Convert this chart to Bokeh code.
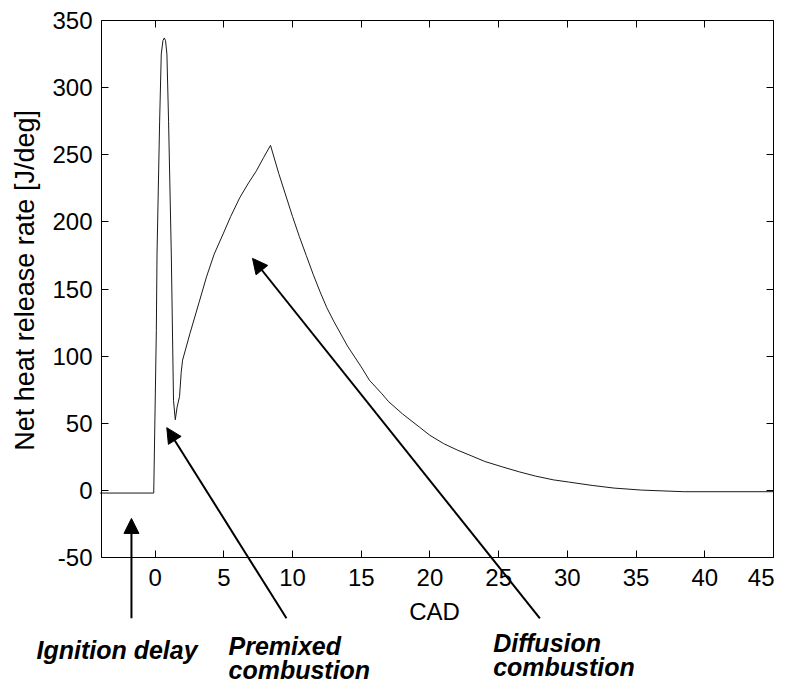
import math
from bokeh.plotting import figure
from bokeh.models import Range1d, FixedTicker, LinearAxis, Arrow, NormalHead, Label
from bokeh.embed import file_html
from bokeh.resources import INLINE

# ---- data ----
cad = [-4.0, -0.1, 0.09, 0.14, 0.33, 0.45, 0.57, 0.67, 0.76, 0.86, 0.98, 1.18,
       1.34, 1.47, 1.6, 1.78, 1.9, 2.0, 2.54, 3.2, 3.74, 4.3, 4.95, 5.5, 6.16,
       6.8, 7.37, 7.9, 8.4, 9.0, 9.5, 10.0, 10.5, 11.0, 11.5, 12.0, 12.5, 13.0,
       14.0, 15.0, 15.6, 16.5, 17.0, 18.0, 19.25, 20.0, 21.0, 22.0, 23.0, 24.0,
       25.3, 26.5, 27.7, 29.0, 30.1, 31.8, 33.4, 35.4, 38.5, 45.0]
hrr = [-2, -2, 119, 176, 275, 325, 335, 337, 335, 325, 275, 176,
       67, 52.6, 62, 70, 88, 97, 117, 140, 159, 176, 191, 204, 218,
       229, 238, 248, 257, 236, 220, 204, 189, 175, 161, 148, 136, 126,
       107.5, 92, 82, 72, 66, 57, 47, 41, 34.8, 30, 25.8, 21.5,
       17.4, 13.8, 10.6, 7.8, 6.2, 3.7, 1.7, 0.2, -1, -1]

x_ticks = [0, 5, 10, 15, 20, 25, 30, 35, 40, 45]
y_ticks = [-50, 0, 50, 100, 150, 200, 250, 300, 350]
y_tick_labels = ["-50", "0", "50", "100", "150", "200", "250", "300", "350"]
x_min, x_max = -3.9, 45
y_min, y_max = -50, 350

x_label = "CAD"
y_label = "Net heat release rate [J/deg]"

# annotation arrows: tail (x, y) -> tip (x, y), in data units
arrow_tail_x = [-1.72, 9.56, 28.0]
arrow_tail_y = [-95.3, -95.3, -95.3]
arrow_tip_x = [-1.72, 0.85, 7.09]
arrow_tip_y = [-20.9, 46.7, 172.8]

# annotation texts, in data units (left edge, text anchor)
note_texts = ["Ignition delay", "Premixed", "combustion", "Diffusion", "combustion"]
note_x = [-8.63, 5.34, 5.34, 24.6, 24.6]
note_y = [-119.2, -116.2, -134.1, -114.0, -131.9]

# axis titles, in data units
x_label_pos = (20.33, -89.9)
y_label_pos = (-9.48, 156.4)

FONT = "Liberation Sans"

# ---- layout: the frame fills the canvas so that notes below the axes show ----
W, H = 774, 683
AX_LEFT, AX_RIGHT, AX_TOP, AX_BOTTOM = 101, 773, 20, 557   # pixel box of the axes
sx = (AX_RIGHT - AX_LEFT) / (x_max - x_min)
sy = (AX_BOTTOM - AX_TOP) / (y_max - y_min)
xr = Range1d(x_min - AX_LEFT / sx, x_max + (W - AX_RIGHT) / sx)
yr = Range1d(y_min - (H - AX_BOTTOM) / sy, y_max + AX_TOP / sy)

p = figure(width=W, height=H, x_range=xr, y_range=yr,
           output_backend="svg", toolbar_location=None,
           min_border=0, min_border_left=0, min_border_right=0,
           min_border_top=0, min_border_bottom=0,
           background_fill_color="white", border_fill_color="white")
p.grid.visible = False
p.outline_line_color = None

p.line(cad, hrr, line_color="#1a1a1a", line_width=1)

def style_axis(ax, ticks, show_labels):
    ax.ticker = FixedTicker(ticks=ticks)
    ax.major_tick_in = 7
    ax.major_tick_out = 0
    ax.minor_tick_line_color = None
    ax.axis_line_color = "black"
    ax.axis_line_width = 1
    ax.major_tick_line_color = "black"
    ax.major_label_text_font = FONT
    if show_labels:
        ax.major_label_text_color = "black"
        ax.major_label_text_font_size = "24px"
    else:
        ax.major_label_text_color = None
        ax.major_label_text_alpha = 0
        ax.major_label_standoff = 0

xa = p.xaxis[0]
style_axis(xa, x_ticks, True)
xa.fixed_location = y_min
xa.bounds = (x_min, x_max)
xa.major_label_standoff = 11

ya = p.yaxis[0]
style_axis(ya, y_ticks, True)
ya.fixed_location = x_min
ya.bounds = (y_min, y_max)
ya.major_label_standoff = 9
ya.major_label_overrides = {t: s for t, s in zip(y_ticks, y_tick_labels)}

top = LinearAxis(fixed_location=y_max, bounds=(x_min, x_max))
style_axis(top, x_ticks, False)
p.add_layout(top, "above")
right = LinearAxis(fixed_location=x_max, bounds=(y_min, y_max))
style_axis(right, y_ticks, False)
p.add_layout(right, "right")

p.add_layout(Label(x=x_label_pos[0], y=x_label_pos[1], text=x_label,
                   text_font=FONT, text_font_size="24px", text_color="black",
                   text_align="center", text_baseline="alphabetic"))
p.add_layout(Label(x=y_label_pos[0], y=y_label_pos[1], text=y_label,
                   text_font=FONT, text_font_size="27px", text_color="black",
                   text_align="center", text_baseline="alphabetic",
                   angle=math.pi / 2, angle_units="rad"))

for tx, ty, hx, hy in zip(arrow_tail_x, arrow_tail_y, arrow_tip_x, arrow_tip_y):
    p.add_layout(Arrow(x_start=tx, y_start=ty, x_end=hx, y_end=hy,
                       line_color="black", line_width=2,
                       end=NormalHead(size=15, fill_color="black",
                                      line_color="black", line_width=1)))

for t, lx, ly in zip(note_texts, note_x, note_y):
    p.add_layout(Label(x=lx, y=ly, text=t, text_font=FONT,
                       text_font_size="25px", text_font_style="bold italic",
                       text_color="black", text_baseline="alphabetic",
                       text_align="left"))

open("out.html", "w").write(file_html(p, INLINE))
